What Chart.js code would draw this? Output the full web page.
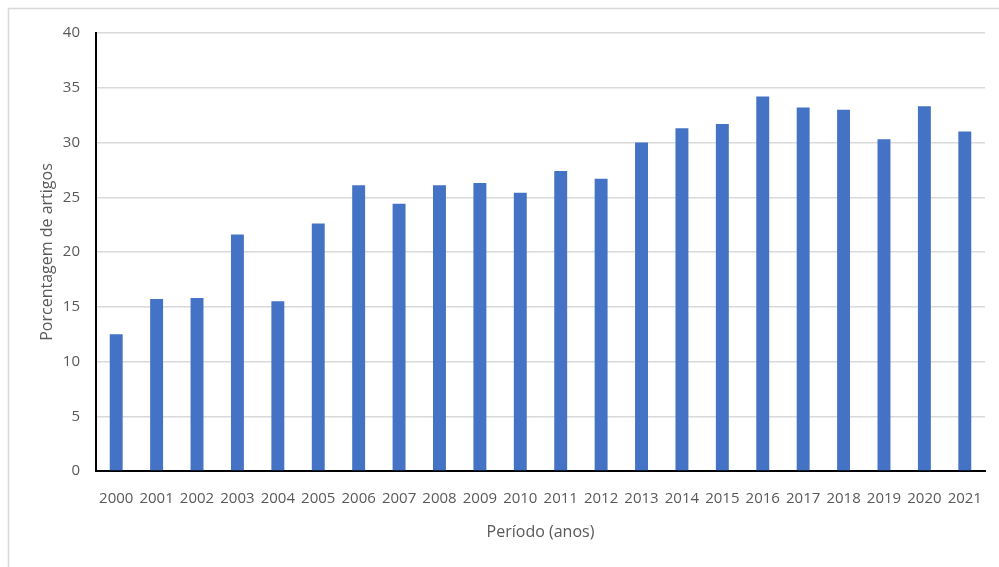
<!DOCTYPE html>
<html lang="pt">
<head>
  <meta charset="UTF-8" />
  <title>Porcentagem de artigos por ano</title>
  <script src="https://cdn.jsdelivr.net/npm/chart.js"></script>
  <style>
    html, body { margin: 0; padding: 0; background: #fff; }
    #grafico { display: block; }
  </style>
</head>
<body>
  <canvas id="grafico" width="999" height="567"></canvas>

  <script>
    const anos = ['2000', '2001', '2002', '2003', '2004', '2005', '2006', '2007', '2008', '2009', '2010',
                  '2011', '2012', '2013', '2014', '2015', '2016', '2017', '2018', '2019', '2020', '2021'];
    const porcentagens = [12.5, 15.7, 15.8, 21.6, 15.5, 22.6, 26.1, 24.4, 26.1, 26.3, 25.4,
                          27.4, 26.7, 30.0, 31.3, 31.7, 34.2, 33.2, 33.0, 30.3, 33.3, 31.0];
    const ticksY = [0, 5, 10, 15, 20, 25, 30, 35, 40];

    const fonte = '"Open Sans", "Liberation Sans", sans-serif';
    const cinzaTexto = '#595959';

    // moldura cinza clara atrás do gráfico
    const moldura = {
      id: 'moldura',
      beforeDraw(chart) {
        const c = chart.ctx;
        c.save();
        c.fillStyle = '#fff';
        c.fillRect(0, 0, chart.width, chart.height);
        c.strokeStyle = '#d9d9d9';
        c.lineWidth = 1.5;
        c.strokeRect(8.5, 8.5, chart.width + 20, chart.height + 20);
        c.restore();
      }
    };

    const ctx = document.getElementById('grafico').getContext('2d');

    new Chart(ctx, {
      type: 'bar',
      data: {
        labels: anos,
        datasets: [{
          label: 'Porcentagem de artigos',
          data: porcentagens,
          backgroundColor: '#4472C4',
          borderWidth: 0,
          categoryPercentage: 1,
          barPercentage: 0.32
        }]
      },
      options: {
        responsive: false,
        animation: false,
        layout: { padding: { left: 0, right: 14, top: 33, bottom: 0 } },
        plugins: {
          legend: { display: false },
          tooltip: { enabled: false }
        },
        scales: {
          x: {
            grid: { display: false },
            border: { color: '#000', width: 2 },
            ticks: {
              color: cinzaTexto,
              font: { family: fonte, size: 15 },
              padding: 11,
              autoSkip: false,
              maxRotation: 0
            },
            title: {
              display: true,
              text: 'Período (anos)',
              color: cinzaTexto,
              font: { family: fonte, size: 16 },
              padding: { top: 0, bottom: 25 }
            },
            afterFit(scale) { scale.height = 96; }
          },
          y: {
            min: 0,
            max: 40,
            afterBuildTicks(scale) { scale.ticks = ticksY.map(v => ({ value: v })); },
            grid: { color: '#d9d9d9', lineWidth: 1.5, drawTicks: false },
            border: { color: '#000', width: 2 },
            ticks: {
              color: cinzaTexto,
              font: { family: fonte, size: 15 },
              padding: 16
            },
            title: {
              display: true,
              text: 'Porcentagem de artigos',
              color: cinzaTexto,
              font: { family: fonte, size: 16 },
              padding: { top: 38, bottom: 0 }
            },
            afterFit(scale) { scale.width = 96; }
          }
        }
      },
      plugins: [moldura]
    });
  </script>
</body>
</html>
